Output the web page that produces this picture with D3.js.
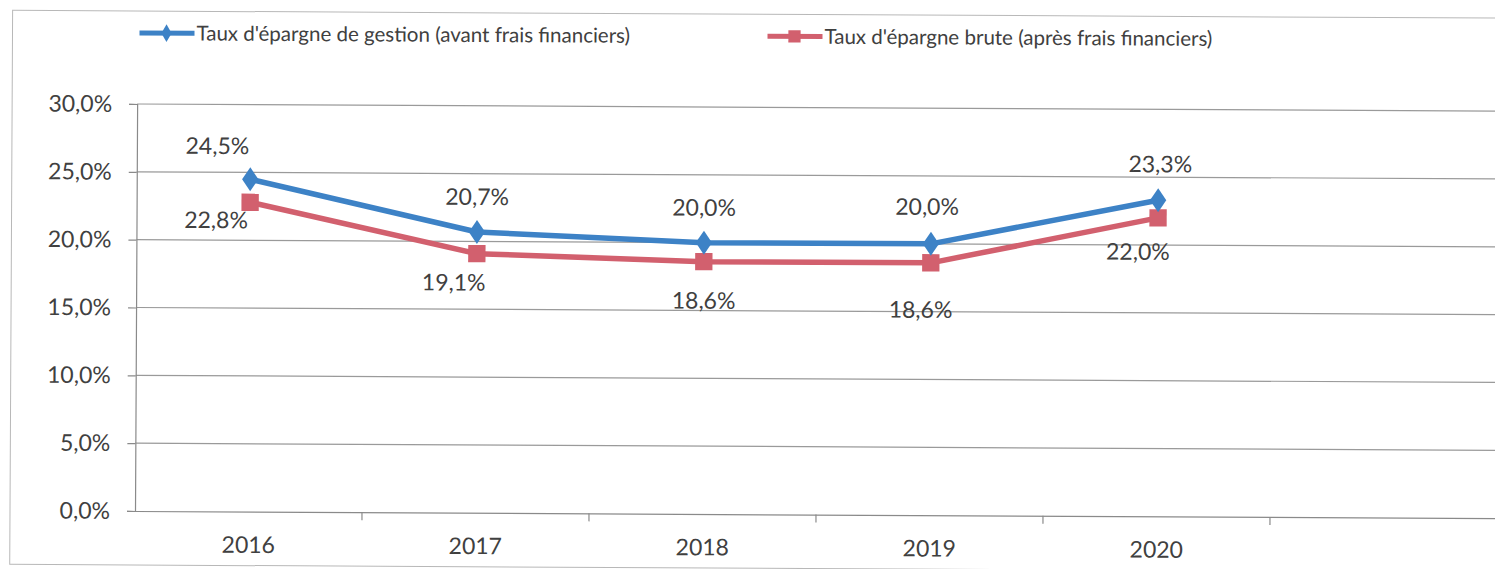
<!DOCTYPE html>
<html>
<head>
<meta charset="utf-8">
<script src="https://cdn.jsdelivr.net/npm/d3@7"></script>
<style>
  body { margin: 0; background: #fff; }
  svg { display: block; }
  text { font-family: Lato, "Open Sans", sans-serif; fill: #404040; }
</style>
</head>
<body>
<svg id="chart" width="1495" height="569"></svg>
<script>
// categories (last slot is empty in the original chart)
const years = ["2016", "2017", "2018", "2019", "2020", ""];
const gestion = [0.245, 0.207, 0.200, 0.200, 0.233];
const brute = [0.228, 0.191, 0.186, 0.186, 0.220];
const yTicks = [0, 0.05, 0.10, 0.15, 0.20, 0.25, 0.30];
const seriesNames = [
    "Taux d'épargne de gestion (avant frais financiers)",
    "Taux d'épargne brute (après frais financiers)"
];

const blue = "#3d82c6", red = "#d2606e";

// label nudges, px (dx, dy) -- hand placed in the original
const nudgeTop = [[-33, -25], [0, -27], [0, -27], [-4, -29], [2, -28]];
const nudgeBot = [[-34, 26], [-23, 37], [0, 47], [-10, 55], [-20, 42]];

const svg = d3.select("#chart");
const fmt = v => d3.format(".1f")(v * 100).replace(".", ",") + "%";

const plotL = 135, plotR = 1497, plotT = 104, plotB = 511;

const x = d3.scaleBand().domain(years).range([plotL, plotR]);
const y = d3.scaleLinear().domain([0, 0.30]).range([plotB, plotT]);

// the scan is a bit tilted
const root = svg.append("g")
    .attr("transform", `rotate(0.3, ${plotL}, ${plotB})`);

root.append("rect")
    .attr("x", 10).attr("y", 11)
    .attr("width", 1520).attr("height", 554)
    .attr("fill", "none")
    .attr("stroke", "#b8b8b8");

// gridlines
root.append("g")
    .selectAll("line")
    .data(yTicks.slice(1))
    .join("line")
    .attr("x1", plotL).attr("x2", plotR)
    .attr("y1", d => y(d)).attr("y2", d => y(d))
    .attr("stroke", "#9a9a9a")
    .attr("stroke-width", 1.2);

// y axis
const yAxis = root.append("g")
    .attr("transform", `translate(${plotL},0)`)
    .call(d3.axisLeft(y).tickValues(yTicks).tickFormat(fmt).tickSize(8).tickPadding(17));
yAxis.select(".domain").attr("stroke", "#8a8a8a").attr("stroke-width", 1.2);
yAxis.selectAll(".tick line").attr("stroke", "#8a8a8a").attr("stroke-width", 1.2);
yAxis.selectAll("text")
    .style("font-size", "23px")
    .attr("fill", "#505050");

// x axis, ticks on band boundaries
const xAxis = root.append("g")
    .attr("transform", `translate(0,${plotB})`)
    .call(d3.axisBottom(x).tickSize(0).tickPadding(25));
xAxis.select(".domain").attr("stroke", "#8a8a8a").attr("stroke-width", 1.2);
xAxis.selectAll("text")
    .style("font-size", "23px")
    .attr("fill", "#505050");
root.append("g")
    .selectAll("line")
    .data(years)
    .join("line")
    .attr("x1", d => x(d) + x.bandwidth()).attr("x2", d => x(d) + x.bandwidth())
    .attr("y1", plotB).attr("y2", plotB + 8)
    .attr("stroke", "#8a8a8a")
    .attr("stroke-width", 1.2);

const cx = i => x(years[i]) + x.bandwidth() / 2;
const line = d3.line().x((d, i) => cx(i)).y(d => y(d));

function drawSeries(vals, color, shape, nudge) {
    const g = root.append("g");
    g.append("path")
        .datum(vals)
        .attr("d", line)
        .attr("fill", "none")
        .attr("stroke", color)
        .attr("stroke-width", 5.5)
        .attr("stroke-linejoin", "round");
    g.selectAll("path.mk")
        .data(vals)
        .join("path")
        .classed("mk", true)
        .attr("d", d3.symbol().type(shape).size(shape === d3.symbolSquare ? 300 : 230))
        .attr("transform", (d, i) => `translate(${cx(i)},${y(d)})` + (shape === d3.symbolDiamond ? " scale(1,0.85)" : ""))
        .attr("fill", color);
    g.selectAll("text")
        .data(vals)
        .join("text")
        .attr("x", (d, i) => cx(i) + nudge[i][0])
        .attr("y", (d, i) => y(d) + nudge[i][1])
        .attr("text-anchor", "middle")
        .style("font-size", "23px")
        .attr("fill", "#404040")
        .text(fmt);
}

drawSeries(brute, red, d3.symbolSquare, nudgeBot);
drawSeries(gestion, blue, d3.symbolDiamond, nudgeTop);

// legend
const legendX = [137, 765];
const legendColors = [blue, red];
const legendShapes = [d3.symbolDiamond, d3.symbolSquare];
const lg = root.append("g")
    .selectAll("g")
    .data(seriesNames)
    .join("g")
    .attr("transform", (d, i) => `translate(${legendX[i]},33)`);
lg.append("line")
    .attr("x1", 0).attr("x2", 55)
    .attr("stroke", (d, i) => legendColors[i])
    .attr("stroke-width", 5);
lg.append("path")
    .attr("d", (d, i) => d3.symbol().type(legendShapes[i]).size(i ? 150 : 90)())
    .attr("transform", "translate(27,0)")
    .attr("fill", (d, i) => legendColors[i]);
lg.append("text")
    .attr("x", 57)
    .attr("dy", "0.35em")
    .style("font-size", "20.5px")
    .attr("fill", "#333")
    .text(d => d);
</script>
</body>
</html>
